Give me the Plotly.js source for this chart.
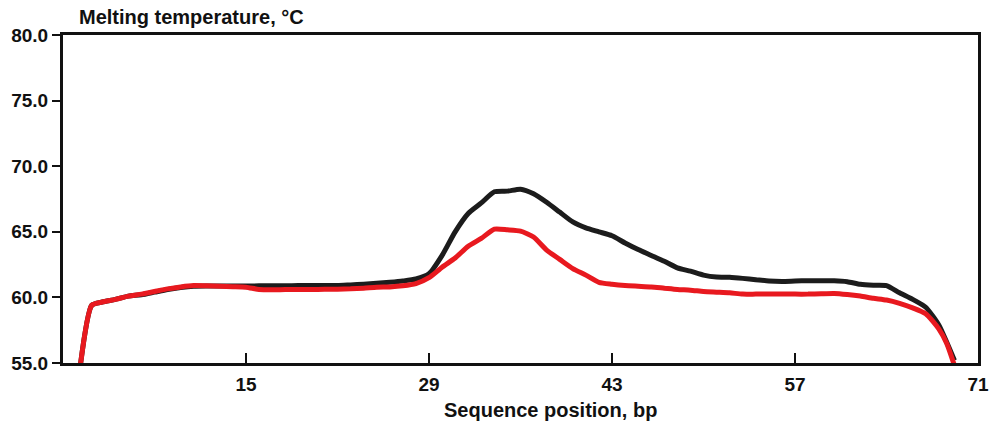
<!DOCTYPE html>
<html>
<head>
<meta charset="utf-8">
<script src="https://cdn.plot.ly/plotly-3.0.1.min.js"></script>
<style>html,body{margin:0;padding:0;background:#fff;}#chart{width:994px;height:423px;}</style>
</head>
<body>
<div id="chart"></div>
<script>
// Sequence positions (bp)
var positions = [2.3, 3.2, 4, 5, 6, 7, 8, 9, 10, 11, 12, 13, 14, 15, 16, 17, 18, 19, 20,
  21, 22, 23, 24, 25, 26, 27, 28, 29, 30, 31, 32, 33, 34, 35, 36, 37, 38, 39, 40,
  41, 42, 43, 44, 45, 46, 47, 48, 49, 50, 51, 52, 53, 54, 55, 56, 57, 58, 59, 60,
  61, 62, 63, 64, 65, 66, 67, 68, 68.6, 69.2];

// Black curve (melting temperature, °C)
var blackTm = [54.6, 59.4, 59.65, 59.85, 60.1, 60.2, 60.4, 60.6, 60.75, 60.85, 60.87, 60.87, 60.87, 60.87, 60.88, 60.88, 60.88, 60.9, 60.9,
  60.9, 60.9, 60.95, 61.0, 61.07, 61.15, 61.25, 61.4, 61.8, 63.2, 65.0, 66.4, 67.2, 68.05, 68.1, 68.25, 67.9, 67.25, 66.5, 65.75,
  65.3, 65.0, 64.7, 64.15, 63.65, 63.2, 62.75, 62.25, 62.0, 61.7, 61.55, 61.53, 61.45, 61.35, 61.25, 61.22, 61.25, 61.27, 61.27, 61.27,
  61.2, 61.0, 60.93, 60.9, 60.35, 59.85, 59.25, 57.9, 56.6, 55.2];

// Red curve (melting temperature, °C)
var redTm = [54.6, 59.4, 59.65, 59.85, 60.1, 60.25, 60.45, 60.65, 60.8, 60.9, 60.88, 60.85, 60.82, 60.78, 60.6, 60.58, 60.6, 60.6, 60.6,
  60.62, 60.63, 60.65, 60.7, 60.78, 60.8, 60.88, 61.05, 61.5, 62.3, 63.0, 63.9, 64.5, 65.2, 65.15, 65.05, 64.6, 63.6, 62.9, 62.2,
  61.7, 61.15, 61.0, 60.9, 60.85, 60.8, 60.7, 60.6, 60.55, 60.45, 60.4, 60.35, 60.25, 60.25, 60.25, 60.25, 60.25, 60.25, 60.28, 60.3,
  60.22, 60.1, 59.93, 59.8, 59.55, 59.2, 58.75, 57.6, 56.5, 54.8];

var xTickVals = [15, 29, 43, 57, 71];
var yTickVals = [55, 60, 65, 70, 75, 80];

var fontFam = "Liberation Sans, Arial, sans-serif";

var traces = [
  {x: positions, y: blackTm, type: 'scatter', mode: 'lines',
   line: {color: '#1c1c1c', width: 5, shape: 'spline', smoothing: 0.6}, cliponaxis: false, showlegend: false},
  {x: positions, y: redTm, type: 'scatter', mode: 'lines',
   line: {color: '#e8191f', width: 5, shape: 'spline', smoothing: 0.6}, cliponaxis: false, showlegend: false}
];

var layout = {
  width: 994, height: 423,
  margin: {l: 63, r: 16, t: 35, b: 60},
  paper_bgcolor: '#ffffff', plot_bgcolor: '#ffffff',
  showlegend: false,
  title: {text: 'Melting temperature, °C', x: 79/994, xanchor: 'left', xref: 'container',
          y: 1 - 17/423, yanchor: 'middle', yref: 'container',
          font: {family: fontFam, size: 20, color: '#111', weight: 'bold'}},
  annotations: [{
    text: 'Sequence position, bp', showarrow: false,
    xref: 'paper', yref: 'paper', x: (550 - 63) / 915, xanchor: 'center',
    y: -(410 - 363) / 328, yanchor: 'middle',
    font: {family: fontFam, size: 20, color: '#111', weight: 'bold'}
  }],
  xaxis: {
    range: [1, 71], tickvals: xTickVals, ticktext: xTickVals.map(String),
    ticks: 'inside', ticklen: 10, tickwidth: 2, tickcolor: '#111',
    showline: true, linewidth: 3, linecolor: '#111', mirror: true,
    showgrid: false, zeroline: false, ticklabelstandoff: 2,
    tickfont: {family: fontFam, size: 19, color: '#111', weight: 'bold'}
  },
  yaxis: {
    range: [55, 80], tickvals: yTickVals, tickformat: '.1f',
    ticks: 'outside', ticklen: 8, tickwidth: 2, tickcolor: '#111',
    showline: true, linewidth: 3, linecolor: '#111', mirror: true,
    showgrid: false, zeroline: false,
    tickfont: {family: fontFam, size: 19, color: '#111', weight: 'bold'}
  }
};

Plotly.newPlot('chart', traces, layout, {displayModeBar: false, staticPlot: true});
</script>
</body>
</html>
